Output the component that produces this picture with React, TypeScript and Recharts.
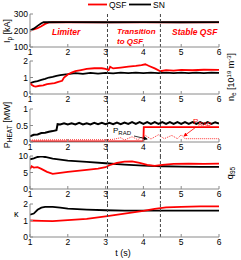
import React from 'react';
import { LineChart, Line, XAxis, YAxis, ReferenceLine } from 'recharts';

const RED = '#ff0000';
const BLACK = '#000000';
const FRAME = '#8a8a8a';
const FONT = '"Liberation Sans", Arial, Helvetica, sans-serif';

const timeTicks = [1, 2, 3, 4, 5, 6];
const phaseBoundaries = [3.05, 4.45];

type Pt = { t: number; v: number };
const mk = (rows: number[][]): Pt[] => rows.map(([t, v]) => ({ t, v }));

// Plasma current Ip [kA]
const ipTicks = [100, 200, 300];
const ipQSF = mk([[1.0, 198], [1.05, 204], [1.1, 207], [1.2, 214], [1.3, 226], [1.4, 240], [1.5, 249], [1.6, 250], [3, 249], [4.5, 249], [6, 249]]);
const ipSN = mk([[1.0, 200], [1.1, 211], [1.2, 228], [1.3, 244], [1.36, 250], [2, 251], [3, 250], [4, 251], [5, 250], [6, 251]]);

// Density ne [1e19 m^-3]
const neTicks = [0, 1, 2];
const neQSF = mk([[1.0, 0.66], [1.05, 0.55], [1.1, 0.48], [1.15, 0.45], [1.25, 0.5], [1.35, 0.52], [1.45, 0.6], [1.55, 0.63], [1.65, 0.66], [1.75, 0.74], [1.85, 0.8], [1.9, 1.0], [2.0, 1.18], [2.1, 1.3], [2.2, 1.38], [2.35, 1.45], [2.5, 1.52], [2.7, 1.56], [2.9, 1.56], [3.0, 1.52], [3.08, 1.45], [3.12, 1.65], [3.2, 1.55], [3.4, 1.6], [3.6, 1.66], [3.8, 1.7], [3.95, 1.75], [4.05, 1.8], [4.15, 1.7], [4.3, 1.55], [4.45, 1.38], [4.6, 1.45], [4.8, 1.42], [5.0, 1.46], [5.3, 1.44], [5.6, 1.47], [6.0, 1.46]]);
const neSN = mk([[1.0, 0.66], [1.1, 0.74], [1.2, 0.78], [1.3, 0.86], [1.4, 0.92], [1.5, 1.0], [1.6, 1.04], [1.7, 1.1], [1.8, 1.14], [1.9, 1.18], [2.0, 1.2], [2.2, 1.26], [2.4, 1.22], [2.6, 1.28], [2.8, 1.24], [3.0, 1.28], [3.2, 1.25], [3.4, 1.3], [3.6, 1.26], [3.8, 1.3], [4.0, 1.26], [4.2, 1.3], [4.4, 1.27], [4.6, 1.3], [4.8, 1.27], [5.0, 1.3], [5.2, 1.27], [5.4, 1.3], [5.6, 1.27], [5.8, 1.3], [6.0, 1.28]]);

// Heating / radiated power [MW]
const pTicks = [0, 0.5, 1];
const pHeatSN = mk([[1.0, 0.17], [1.1, 0.22], [1.2, 0.23], [1.3, 0.27], [1.4, 0.28], [1.5, 0.31], [1.6, 0.33], [1.7, 0.36], [1.73, 0.54], [1.8, 0.53], [1.9, 0.57], [2.0, 0.53], [2.1, 0.57], [2.2, 0.53], [2.3, 0.58], [2.4, 0.53], [2.5, 0.57], [2.6, 0.53], [2.7, 0.58], [2.8, 0.54], [2.9, 0.58], [3.0, 0.54], [3.1, 0.58], [3.2, 0.54], [3.3, 0.59], [3.4, 0.54], [3.5, 0.59], [3.6, 0.55], [3.7, 0.6], [3.8, 0.55], [3.9, 0.6], [4.0, 0.55], [4.1, 0.6], [4.2, 0.55], [4.3, 0.6], [4.4, 0.55], [4.5, 0.6], [4.6, 0.55], [4.7, 0.6], [4.8, 0.55], [4.9, 0.6], [5.0, 0.55], [5.1, 0.6], [5.2, 0.55], [5.3, 0.6], [5.4, 0.55], [5.5, 0.6], [5.6, 0.55], [5.7, 0.6], [5.8, 0.55], [5.9, 0.6], [6.0, 0.56]]);
const pHeatQSF = mk([[1.0, 0.02], [2.0, 0.02], [3.0, 0.02], [4.0, 0.02], [4.01, 0.45], [5.0, 0.45], [6.0, 0.45]]);
const pRadQSF = mk([[1.0, 0.06], [2.0, 0.07], [3.0, 0.07], [3.2, 0.08], [3.4, 0.13], [3.5, 0.06], [3.7, 0.16], [3.85, 0.07], [4.05, 0.2], [4.2, 0.09], [4.4, 0.22], [4.55, 0.1], [4.75, 0.2], [4.9, 0.1], [5.0, 0.22], [5.1, 0.1], [5.5, 0.1], [6.0, 0.1]]);

// Safety factor q95
const qTicks = [0, 5, 10];
const q95QSF = mk([[1.0, 6.0], [1.04, 6.9], [1.1, 6.5], [1.2, 6.6], [1.3, 6.1], [1.45, 5.2], [1.6, 4.6], [1.8, 4.9], [2.0, 5.2], [2.5, 5.8], [2.8, 6.2], [3.0, 6.6], [3.1, 7.2], [3.3, 7.9], [3.5, 8.3], [3.7, 8.4], [3.9, 7.9], [4.1, 7.3], [4.3, 7.0], [4.5, 7.3], [4.8, 7.6], [5.2, 7.7], [5.6, 7.6], [6.0, 7.7]]);
const q95SN = mk([[1.0, 9.0], [1.1, 9.3], [1.2, 9.7], [1.3, 9.9], [1.4, 9.7], [1.6, 9.2], [1.8, 8.9], [2.0, 8.6], [2.5, 8.2], [3.0, 7.8], [3.5, 7.4], [4.0, 7.1], [4.5, 6.9], [5.0, 6.8], [5.5, 6.7], [6.0, 6.7]]);

// Elongation kappa
const kTicks = [0, 1, 2];
const kappaQSF = mk([[1.0, 1.0], [1.3, 0.98], [1.6, 0.96], [2.0, 1.02], [2.5, 1.1], [3.0, 1.25], [3.5, 1.42], [4.0, 1.58], [4.3, 1.7], [4.6, 1.8], [5.0, 1.82], [5.5, 1.85], [6.0, 1.86]]);
const kappaSN = mk([[1.0, 1.35], [1.1, 1.42], [1.2, 1.65], [1.3, 1.78], [1.4, 1.82], [1.6, 1.82], [1.8, 1.78], [2.0, 1.72], [2.5, 1.66], [3.0, 1.62], [3.5, 1.6], [4.0, 1.6], [5.0, 1.6], [6.0, 1.6]]);

type Series = { data: Pt[]; color: string; width: number; dash?: string };
type PanelCfg = { top: number; domain: [number, number]; ticks: number[]; series: Series[] };

const PLOT_H = 33;
const PANEL_STEP = 47.5;
const panels: PanelCfg[] = [
  { top: 14, domain: [100, 300], ticks: ipTicks, series: [
    { data: ipQSF, color: RED, width: 1.8 }, { data: ipSN, color: BLACK, width: 1.8 }] },
  { top: 61, domain: [0, 2], ticks: neTicks, series: [
    { data: neSN, color: BLACK, width: 1.8 }, { data: neQSF, color: RED, width: 1.8 }] },
  { top: 109, domain: [0, 1], ticks: pTicks, series: [
    { data: pRadQSF, color: RED, width: 0.8, dash: '1 1' },
    { data: pHeatQSF, color: RED, width: 1.8 }, { data: pHeatSN, color: BLACK, width: 2 }] },
  { top: 156, domain: [0, 10], ticks: qTicks, series: [
    { data: q95SN, color: BLACK, width: 1.8 }, { data: q95QSF, color: RED, width: 1.8 }] },
  { top: 204, domain: [0, 2], ticks: kTicks, series: [
    { data: kappaSN, color: BLACK, width: 1.8 }, { data: kappaQSF, color: RED, width: 1.8 }] },
];

const MT = 4;
const XH = 16;

function Panel({ cfg, last }: { cfg: PanelCfg; last: boolean }) {
  const [lo, hi] = cfg.domain;
  const ext = last ? 0 : ((hi - lo) * (PANEL_STEP - PLOT_H)) / PLOT_H;
  const tickStyle = { fill: '#000', fontSize: 8.5, fontFamily: FONT };
  return (
    <div style={{ position: 'absolute', left: 0, top: cfg.top - MT }}>
      <LineChart width={241} height={MT + PLOT_H + XH} margin={{ top: MT, right: 22, bottom: 0, left: 0 }}>
        <XAxis xAxisId="b" type="number" dataKey="t" domain={[1, 6]} ticks={timeTicks} allowDataOverflow
          interval={0} height={XH} stroke={FRAME} tickSize={-3} tickMargin={5} tick={tickStyle} />
        <XAxis xAxisId="t" orientation="top" type="number" dataKey="t" domain={[1, 6]} ticks={timeTicks}
          allowDataOverflow height={0} mirror stroke={FRAME} tickSize={3} tick={false} />
        <YAxis yAxisId="l" type="number" domain={cfg.domain} ticks={cfg.ticks} allowDataOverflow interval={0}
          width={30} stroke={FRAME} tickSize={-3} tickMargin={5} tick={tickStyle} />
        <YAxis yAxisId="r" orientation="right" type="number" domain={cfg.domain} ticks={cfg.ticks} allowDataOverflow
          width={0} mirror stroke={FRAME} tickSize={3} tick={false} />
        {cfg.series.map((s, i) => (
          <Line key={i} xAxisId="b" yAxisId="l" data={s.data} dataKey="v" type="linear" dot={false}
            stroke={s.color} strokeWidth={s.width} strokeDasharray={s.dash} isAnimationActive={false} />
        ))}
        {phaseBoundaries.map((b) => (
          <ReferenceLine key={b} xAxisId="b" yAxisId="l" ifOverflow="visible"
            segment={[{ x: b, y: hi }, { x: b, y: lo - ext }]}
            stroke="#444" strokeWidth={1} strokeDasharray="3 2" />
        ))}
      </LineChart>
    </div>
  );
}

export default function App() {
  return (
    <div style={{ position: 'absolute', left: 0, top: 0, width: 241, height: 260, background: '#fff', fontFamily: FONT }}>
      {panels.map((p, i) => (
        <Panel key={i} cfg={p} last={i === panels.length - 1} />
      ))}
      <svg width={241} height={260} style={{ position: 'absolute', left: 0, top: 0, pointerEvents: 'none' }}
        fontFamily={FONT}>
        <defs>
          <marker id="arrB" markerWidth="5" markerHeight="5" refX="4" refY="2.5" orient="auto">
            <path d="M0,0 L5,2.5 L0,5 z" fill={BLACK} />
          </marker>
          <marker id="arrR" markerWidth="5" markerHeight="5" refX="4" refY="2.5" orient="auto">
            <path d="M0,0 L5,2.5 L0,5 z" fill={RED} />
          </marker>
        </defs>
        {/* legend */}
        <line x1={88} x2={107} y1={4.5} y2={4.5} stroke={RED} strokeWidth={1.8} />
        <text x={109} y={8} fontSize={8.5} fill="#000">QSF</text>
        <line x1={129} x2={151} y1={4.5} y2={4.5} stroke={BLACK} strokeWidth={1.8} />
        <text x={153} y={8} fontSize={8.5} fill="#000">SN</text>

        {/* phase annotations */}
        <text x={52} y={35} fontSize={8.5} fontWeight="bold" fontStyle="italic" fill={RED}>Limiter</text>
        <text x={117} y={34} fontSize={8} fontWeight="bold" fontStyle="italic" fill={RED}>Transition</text>
        <text x={117} y={44} fontSize={8} fontWeight="bold" fontStyle="italic" fill={RED}>to QSF</text>
        <text x={172} y={35} fontSize={8.5} fontWeight="bold" fontStyle="italic" fill={RED}>Stable QSF</text>

        {/* P_RAD annotations */}
        <text x={113} y={133} fontSize={8} fill={BLACK}>P<tspan dy={2} fontSize={6}>RAD</tspan></text>
        <line x1={134} y1={136} x2={147} y2={139} stroke={BLACK} strokeWidth={0.8} markerEnd="url(#arrB)" />
        <text x={193} y={124} fontSize={8} fill={RED}>P<tspan dy={2} fontSize={6}>RAD</tspan></text>
        <line x1={196} y1={127} x2={184} y2={136} stroke={RED} strokeWidth={0.8} markerEnd="url(#arrR)" />

        {/* axis titles */}
        <text transform="translate(10,31) rotate(-90)" textAnchor="middle" fontSize={9} fill="#000">
          I<tspan dy={2} fontSize={6.5}>p</tspan><tspan dy={-2}> [kA]</tspan>
        </text>
        <text transform="translate(10,125) rotate(-90)" textAnchor="middle" fontSize={9} fill="#000">
          P<tspan dy={2} fontSize={6.5}>HEAT</tspan><tspan dy={-2}> [MW]</tspan>
        </text>
        <text x={14} y={217} fontSize={9} fill="#000">κ</text>
        <text transform="translate(234,77) rotate(-90)" textAnchor="middle" fontSize={9} fill="#000">
          n<tspan dy={2} fontSize={6.5}>e</tspan><tspan dy={-2}> [10</tspan><tspan dy={-3} fontSize={6}>19</tspan><tspan dy={3}> m</tspan><tspan dy={-3} fontSize={6}>-3</tspan><tspan dy={3}>]</tspan>
        </text>
        <text transform="translate(233,173) rotate(-90)" textAnchor="middle" fontSize={9} fill="#000">
          q<tspan dy={2} fontSize={6.5}>95</tspan>
        </text>
        <text x={123} y={256} textAnchor="middle" fontSize={9} fill="#000">t (s)</text>
      </svg>
    </div>
  );
}
